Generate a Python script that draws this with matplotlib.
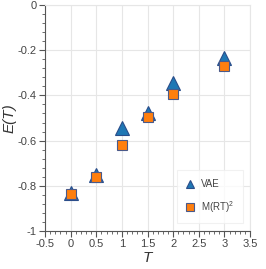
import matplotlib
matplotlib.use("Agg")
import matplotlib.pyplot as plt
from matplotlib.ticker import MultipleLocator, AutoMinorLocator, FuncFormatter

T = [0, 0.5, 1, 1.5, 2, 3]
vae = [-0.833, -0.752, -0.545, -0.478, -0.343, -0.233]
mrt = [-0.836, -0.761, -0.620, -0.495, -0.393, -0.272]

plt.rcParams['font.family'] = ['Liberation Sans', 'DejaVu Sans']
plt.rcParams['mathtext.fontset'] = 'custom'
plt.rcParams['mathtext.rm'] = 'Liberation Sans'
fig = plt.figure(figsize=(2.66, 2.69), dpi=100)
ax = fig.add_axes([45/266, 1-231/269, 205/266, 226/269])

ax.plot(T, vae, linestyle='none', marker='^', markersize=10, color='#1f77b4',
        markeredgecolor='#2a4d8a', markeredgewidth=0.8, label='VAE', zorder=3)
ax.plot(T, mrt, linestyle='none', marker='s', markersize=7, color='#ff7f0e',
        markeredgecolor='#4a5a8a', markeredgewidth=0.8, label='M(RT)$^2$', zorder=4)

ax.set_xlim(-0.5, 3.5)
ax.set_ylim(-1, 0)
ax.xaxis.set_major_locator(MultipleLocator(0.5))
ax.yaxis.set_major_locator(MultipleLocator(0.2))
ax.xaxis.set_minor_locator(AutoMinorLocator(5))
ax.yaxis.set_minor_locator(AutoMinorLocator(5))

def fmt(v, pos):
    return '%g' % round(v, 2)
ax.xaxis.set_major_formatter(FuncFormatter(fmt))
ax.yaxis.set_major_formatter(FuncFormatter(fmt))

ax.grid(True, which='major', color='#e6e6e6', linewidth=0.8)
ax.set_axisbelow(True)
for s in ['top', 'right']:
    ax.spines[s].set_color('#e6e6e6')
for s in ['left', 'bottom']:
    ax.spines[s].set_color('#555555')
ax.tick_params(which='major', length=4, width=0.8, color='#555555', labelsize=8, labelcolor='#444444', pad=2)
ax.tick_params(which='minor', length=2, width=0.6, color='#555555')
ax.tick_params(top=False, right=False, which='both')

ax.set_xlabel('T', fontsize=11, labelpad=1, fontstyle='italic', color='#333333')
ax.set_ylabel('E(T)', fontsize=11, labelpad=1, fontstyle='italic', color='#333333')

leg = ax.legend(loc='lower right', fontsize=7, frameon=True, borderpad=0.6,
                labelspacing=1.0, handletextpad=0.6, markerscale=1.0,
                handlelength=1.0, bbox_to_anchor=(0.975, 0.025))
handles = leg.legend_handles
handles[0].set_markersize(6)
handles[1].set_markersize(5.5)
leg.get_frame().set_edgecolor('#eeeeee')
leg.get_frame().set_linewidth(0.8)
leg.get_frame().set_boxstyle('square')
for t in leg.get_texts():
    t.set_color('#444444')

fig.savefig('out.png', dpi=100)
